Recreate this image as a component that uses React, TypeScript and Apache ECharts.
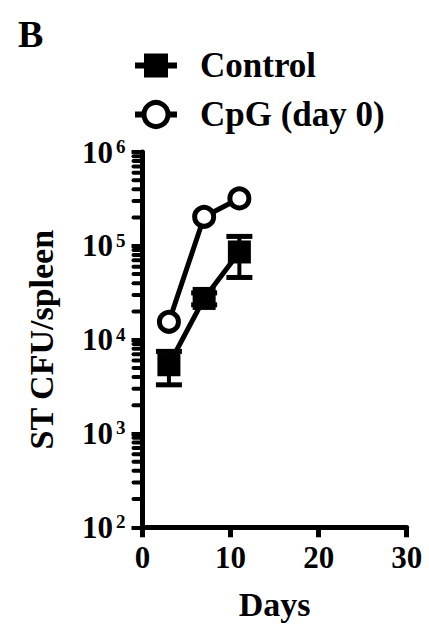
import React, { useEffect, useRef } from "react";
import * as echarts from "echarts";

// ---- data ----
const days = [3, 7, 11];
const controlMean = [5400, 27500, 86000];
const controlErr = [2100, 4000, 40000];
const cpgMean = [15500, 204000, 320000];
const seriesNames = ["Control", "CpG (day 0)"];
const xTicks = [0, 10, 20, 30];
const yMin = 100;
const yMax = 1000000;
const decades = [100, 1000, 10000, 100000];
const minorMultipliers = [2, 3, 4, 5, 6, 7, 8, 9];

const FONT = "'Liberation Serif', 'Times New Roman', serif";

export default function App() {
  const ref = useRef<HTMLDivElement>(null);

  useEffect(() => {
    document.body.style.margin = "0";
    if (!ref.current) return;
    const chart = echarts.init(ref.current, null, { renderer: "svg" });

    const controlData = days.map((d, i) => [d, controlMean[i]]);
    const cpgData = days.map((d, i) => [d, cpgMean[i]]);
    const errData = days.map((d, i) => [d, controlMean[i] - controlErr[i], controlMean[i] + controlErr[i]]);
    const minorData: number[][] = [];
    decades.forEach((dec) => minorMultipliers.forEach((m) => minorData.push([xTicks[0], dec * m])));

    chart.setOption({
      animation: false,
      backgroundColor: "#fff",
      title: {
        text: "B",
        left: 13,
        top: 10,
        textStyle: { fontFamily: FONT, fontWeight: "bold", fontSize: 38, color: "#000" },
      },
      legend: {
        data: seriesNames,
        orient: "vertical",
        left: 132,
        top: 48,
        padding: 0,
        itemGap: 14,
        itemWidth: 42,
        itemHeight: 30,
        lineStyle: { width: 6, color: "#000" },
        itemStyle: { borderWidth: 5 },
        textStyle: {
          fontFamily: FONT,
          fontWeight: "bold",
          fontSize: 35,
          color: "#000",
          padding: [0, 0, 0, 18],
        },
      },
      grid: { left: 142.5, right: 22.3, top: 152, bottom: 107.7 },
      xAxis: {
        type: "value",
        min: xTicks[0],
        max: xTicks[xTicks.length - 1],
        interval: 10,
        name: "Days",
        nameLocation: "middle",
        nameGap: 60,
        nameTextStyle: { fontFamily: FONT, fontWeight: "bold", fontSize: 34, color: "#000" },
        splitLine: { show: false },
        axisLine: { onZero: false, lineStyle: { color: "#000", width: 5 } },
        axisTick: { length: 10, lineStyle: { color: "#000", width: 5 } },
        axisLabel: { margin: 15, fontFamily: FONT, fontWeight: "bold", fontSize: 31, color: "#000" },
      },
      yAxis: {
        type: "log",
        logBase: 10,
        min: yMin,
        max: yMax,
        name: "ST CFU/spleen",
        nameLocation: "middle",
        nameRotate: 90,
        nameGap: 84,
        nameTextStyle: { fontFamily: FONT, fontWeight: "bold", fontSize: 34, color: "#000" },
        splitLine: { show: false },
        minorTick: { show: false },
        axisLine: { lineStyle: { color: "#000", width: 5 } },
        axisTick: { length: 11, lineStyle: { color: "#000", width: 4 } },
        axisLabel: {
          margin: 17,
          formatter: (v: number) => `{b|10}{s|${Math.round(Math.log10(v))}}`,
          rich: {
            b: { fontFamily: FONT, fontWeight: "bold", fontSize: 31, lineHeight: 30, color: "#000" },
            s: {
              fontFamily: FONT,
              fontWeight: "bold",
              fontSize: 19,
              lineHeight: 16,
              verticalAlign: "top",
              padding: [0, 0, 0, 3],
              color: "#000",
            },
          },
        },
      },
      series: [
        {
          type: "custom",
          name: "minorTicks",
          clip: false,
          silent: true,
          z: 1,
          data: minorData,
          encode: { x: 0, y: 1 },
          renderItem: (params: any, api: any) => {
            const p = api.coord([api.value(0), api.value(1)]);
            return {
              type: "line",
              shape: { x1: p[0] - 9, y1: p[1], x2: p[0], y2: p[1] },
              style: { stroke: "#000", lineWidth: 4, lineCap: "round" },
            };
          },
        },
        {
          type: "custom",
          name: "errorBars",
          silent: true,
          clip: false,
          z: 1,
          data: errData,
          encode: { x: 0, y: [1, 2] },
          renderItem: (params: any, api: any) => {
            const x = api.value(0);
            const lo = api.coord([x, api.value(1)]);
            const hi = api.coord([x, api.value(2)]);
            const half = 13;
            return {
              type: "group",
              children: [
                { type: "line", shape: { x1: lo[0], y1: lo[1], x2: hi[0], y2: hi[1] }, style: { stroke: "#000", lineWidth: 4 } },
                { type: "line", shape: { x1: lo[0] - half, y1: lo[1], x2: lo[0] + half, y2: lo[1] }, style: { stroke: "#000", lineWidth: 5 } },
                { type: "line", shape: { x1: hi[0] - half, y1: hi[1], x2: hi[0] + half, y2: hi[1] }, style: { stroke: "#000", lineWidth: 5 } },
              ],
            };
          },
        },
        {
          type: "line",
          name: seriesNames[0],
          data: controlData,
          symbol: "rect",
          symbolSize: 23,
          z: 3,
          lineStyle: { color: "#000", width: 5 },
          itemStyle: { color: "#000" },
        },
        {
          type: "line",
          name: seriesNames[1],
          data: cpgData,
          symbol: "circle",
          symbolSize: 19,
          z: 4,
          lineStyle: { color: "#000", width: 5 },
          itemStyle: { color: "#fff", borderColor: "#000", borderWidth: 5 },
        },
      ],
    });

    return () => chart.dispose();
  }, []);

  return (
    <div
      ref={ref}
      style={{ position: "absolute", left: 0, top: 0, width: 429, height: 635 }}
    />
  );
}
